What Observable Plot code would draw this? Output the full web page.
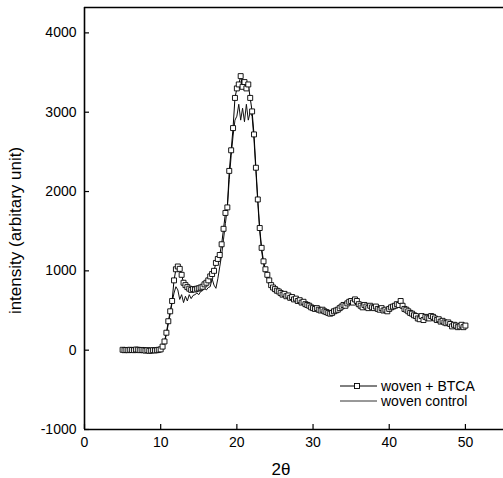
<!DOCTYPE html>
<html>
<head>
<meta charset="utf-8">
<script src="https://cdn.jsdelivr.net/npm/d3@7"></script>
<script src="https://cdn.jsdelivr.net/npm/@observablehq/plot@0.6"></script>
<style>
  html, body { margin: 0; padding: 0; background: #fff; overflow: hidden; }
  #chart svg { display: block; }
</style>
</head>
<body>
<div id="chart"></div>
<script>
// 2θ grid: 5 to 50 in steps of 0.25
const twoTheta = d3.range(5, 50.0001, 0.25);

// woven + BTCA (open squares)
const btca = [
  5, 0, 3, 0,
  5, 2, 0, 8,
  5, 0, 3, 0,
  -5, 0, -8, -5,
  0, -3, 0, 5,
  10, 45, 110, 220,
  365, 490, 620, 880,
  1020, 1055, 1025, 950,
  850, 820, 795, 775,
  760, 770, 765, 775,
  780, 790, 800, 830,
  850, 880, 930, 960,
  1000, 1100, 1150, 1200,
  1335, 1530, 1730, 1800,
  2260, 2520, 2800, 3180,
  3300, 3350, 3455, 3320,
  3380, 3300, 3350, 3180,
  3010, 2720, 2300, 1900,
  1540, 1290, 1120, 1020,
  950, 880, 820, 790,
  770, 750, 740, 720,
  700, 710, 680, 690,
  660, 670, 640, 650,
  620, 630, 600, 610,
  580, 570, 560, 540,
  530, 520, 530, 510,
  500, 510, 490, 480,
  470, 460, 470, 490,
  500, 510, 530, 550,
  570, 560, 590, 610,
  620, 600, 640, 620,
  580, 560, 540, 570,
  550, 530, 560, 540,
  530, 550, 520, 510,
  530, 500, 510, 490,
  520, 540, 550, 560,
  580, 570, 620, 560,
  520, 510, 490, 470,
  460, 440, 430, 400,
  390, 430, 380, 420,
  410, 400, 430, 420,
  400, 380, 390, 360,
  370, 350, 340, 350,
  330, 300, 320, 310,
  290, 300, 320, 290,
  310
];

// woven control (plain line)
const control = [
  0, 3, 0, 2,
  0, 4, 0, 3,
  2, 0, 4, 0,
  -3, 0, -5, -2,
  0, -2, 0, 3,
  10, 40, 100, 200,
  330, 460, 600, 720,
  800, 760, 640, 700,
  600, 680, 620, 700,
  650, 690, 700, 720,
  700, 740, 750, 780,
  760, 790, 800, 900,
  820, 780, 900, 1050,
  1200, 1400, 1600, 1800,
  2150, 2450, 2700, 2900,
  2950, 3100, 2900, 3050,
  2880, 3100, 2900, 3000,
  2950, 2650, 2250, 1850,
  1500, 1250, 1080, 980,
  900, 840, 790, 760,
  750, 730, 720, 700,
  690, 680, 670, 660,
  650, 640, 630, 620,
  610, 600, 590, 580,
  570, 560, 545, 530,
  520, 510, 505, 495,
  490, 480, 470, 465,
  460, 455, 465, 480,
  495, 510, 525, 540,
  555, 570, 580, 595,
  600, 590, 580, 570,
  560, 550, 545, 540,
  535, 530, 525, 520,
  520, 515, 510, 500,
  495, 490, 490, 495,
  505, 520, 530, 540,
  550, 545, 540, 530,
  510, 495, 480, 460,
  450, 440, 425, 415,
  410, 405, 400, 400,
  395, 390, 385, 380,
  375, 370, 365, 355,
  350, 340, 335, 330,
  325, 315, 310, 305,
  300, 295, 290, 290,
  300
];

const xTicks = [0, 10, 20, 30, 40, 50];
const yTicks = [-1000, 0, 1000, 2000, 3000, 4000];
const seriesNames = ["woven + BTCA", "woven control"];
const xLabel = "2θ";
const yLabel = "intensity (arbitary unit)";

const btcaData = twoTheta.map((x, i) => ({x, y: btca[i]}));
const controlData = twoTheta.map((x, i) => ({x, y: control[i]}));

const chart = Plot.plot({
  width: 503,
  height: 478,
  marginLeft: 84,
  marginRight: 0,
  marginTop: 7,
  marginBottom: 49,
  style: {fontFamily: "'Liberation Sans', Arial, sans-serif", background: "#fff", color: "#000"},
  x: {domain: [0, 55]},
  y: {domain: [-1000, 4320]},
  marks: [
    Plot.axisX({ticks: xTicks, tickFormat: d => String(d), tickSize: -5, tickPadding: 13, fontSize: 14, label: null, stroke: "#000", strokeWidth: 1.2}),
    Plot.axisY({ticks: yTicks, tickFormat: d => String(d), tickSize: -5, tickPadding: 13, fontSize: 14, label: null, stroke: "#000", strokeWidth: 1.2}),
    Plot.ruleX([0], {stroke: "#000", strokeWidth: 1.6}),
    Plot.ruleY([-1000, 4320], {stroke: "#000", strokeWidth: 1.6}),
    Plot.line(controlData, {x: "x", y: "y", stroke: "#111", strokeWidth: 1}),
    Plot.line(btcaData, {x: "x", y: "y", stroke: "#000", strokeWidth: 1}),
    Plot.dot(btcaData, {x: "x", y: "y", symbol: "square", r: 2.8, fill: "#fff", stroke: "#000", strokeWidth: 0.9}),
    Plot.text([yLabel], {frameAnchor: "left", textAnchor: "middle", rotate: -90, dx: -69, dy: 12, fontSize: 17, fill: "#000"}),
    Plot.text([xLabel], {frameAnchor: "bottom", textAnchor: "middle", dx: -13, dy: 40, fontSize: 17, fill: "#000", lineAnchor: "middle"})
  ]
});

// legend inside the plot area (lower right)
const svg = d3.select(chart);
const legend = svg.append("g").attr("font-size", 14).attr("fill", "#000").attr("text-anchor", "start");
const rows = [{y: 386, marker: true}, {y: 401, marker: false}];
rows.forEach((r, i) => {
  legend.append("line").attr("x1", 340).attr("x2", 377).attr("y1", r.y).attr("y2", r.y)
    .attr("stroke", i === 0 ? "#000" : "#333").attr("stroke-width", 1);
  if (r.marker) {
    legend.append("rect").attr("x", 354.5).attr("y", r.y - 2.5).attr("width", 5).attr("height", 5)
      .attr("fill", "#fff").attr("stroke", "#000").attr("stroke-width", 0.9);
  }
  legend.append("text").attr("x", 381).attr("y", r.y + 5).attr("text-anchor", "start").text(seriesNames[i]);
});

document.getElementById("chart").appendChild(chart);
</script>
</body>
</html>
